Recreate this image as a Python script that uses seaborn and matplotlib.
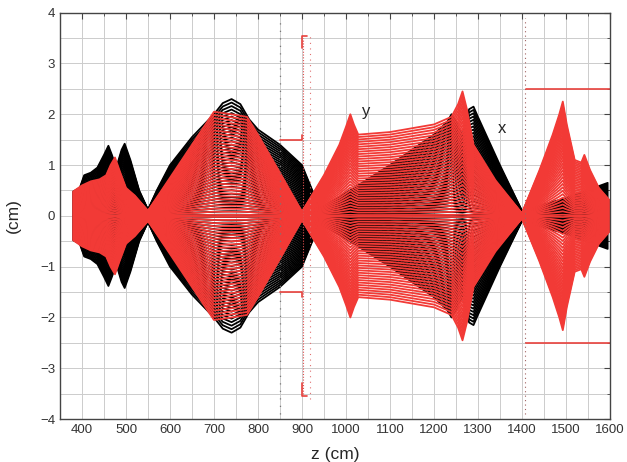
import numpy as np
import pandas as pd
import matplotlib
matplotlib.use("Agg")
import matplotlib.pyplot as plt
import seaborn as sns

# outer envelope of the x plane (black)
x_env_z = [380, 395, 405, 420, 435, 450, 460, 468, 478, 490, 497, 510, 530, 550,
           570, 600, 650, 700, 720, 740, 760, 780, 800, 850, 900, 940,
           1000, 1100, 1200, 1230, 1240, 1250, 1265, 1280, 1290, 1300, 1350, 1400,
           1500, 1595]
x_env_r = [0.48, 0.55, 0.8, 0.85, 0.95, 1.2, 1.38, 1.2, 0.95, 1.3, 1.42, 1.1, 0.5, 0.12,
           0.5, 1.0, 1.55, 2.0, 2.22, 2.3, 2.2, 1.9, 1.7, 1.4, 1.0, 0.15,
           0.45, 1.0, 1.6, 1.85, 2.0, 1.85, 1.6, 2.1, 2.15, 1.95, 1.0, 0.1,
           0.35, 0.65]

# outer envelope of the y plane (red)
y_env_z = [380, 400, 420, 440, 455, 465, 475, 485, 500, 520, 550,
           600, 650, 700, 740, 775, 800, 850, 900,
           950, 985, 1000, 1010, 1018, 1028, 1100, 1200, 1240, 1255, 1265, 1275, 1290,
           1340, 1400, 1440, 1470, 1485, 1493, 1502, 1520, 1535, 1542, 1555, 1575,
           1595, 1600]
y_env_r = [0.48, 0.6, 0.68, 0.72, 0.8, 1.0, 1.15, 0.9, 0.55, 0.4, 0.1,
           0.75, 1.4, 2.05, 2.0, 1.95, 1.6, 0.85, 0.08,
           0.8, 1.4, 1.75, 2.0, 1.8, 1.6, 1.65, 1.8, 1.95, 2.2, 2.45, 2.1, 1.4,
           0.7, 0.05, 0.9, 1.6, 2.0, 2.25, 1.8, 1.1, 1.05, 1.2, 0.9, 0.55,
           0.35, 0.3]

# relative amplitudes of the traced particles
amps = [1.0, 0.97, 0.94, 0.91, 0.88, 0.85, 0.82, 0.79, 0.76, 0.73, 0.70, 0.67,
        0.64, 0.61, 0.58, 0.55, 0.52, 0.49, 0.46, 0.43, 0.40, 0.37, 0.34, 0.31,
        0.28, 0.25, 0.22, 0.19, 0.16, 0.13, 0.10, 0.07, 0.04, 0.01]

# apertures
aper1_z = [850, 900]
aper1_half = 1.5
aper2_z = [900, 912]
aper2_half = 3.55
aper3_z = [1410, 1600]
aper3_half = 2.5


def traces(env_z, env_r):
    rows = []
    k = 0
    for a in amps:
        for s in (1, -1):
            for z, r in zip(env_z, env_r):
                rows.append((k, z, s * a * r))
            k += 1
    return pd.DataFrame(rows, columns=["traj", "z", "pos"])


df_x = traces(x_env_z, x_env_r)
df_y = traces(y_env_z, y_env_r)

sns.set_theme(style="white")
plt.rcParams["font.family"] = ["Liberation Sans", "DejaVu Sans"]

fig = plt.figure(figsize=(6.27, 4.62), dpi=100)
ax = fig.add_axes([0.0957, 0.093, 0.877, 0.8795])

sns.lineplot(data=df_x, x="z", y="pos", units="traj", estimator=None,
             color="black", lw=1.3, ax=ax, legend=False)
sns.lineplot(data=df_y, x="z", y="pos", units="traj", estimator=None,
             color="#f23a36", lw=1.3, ax=ax, legend=False)

# dotted markers of element positions
ax.plot([850, 850], [-3.9, 3.9], color="#777777", ls=(0, (1, 5)), lw=0.9)
ax.plot([903, 903], [-3.5, 3.5], color="#e05050", ls=(0, (1, 1.5)), lw=0.8)
ax.plot([918, 918], [-3.6, 3.6], color="#e07070", ls=(0, (1, 4)), lw=0.8)
ax.plot([1407, 1407], [-3.9, 3.9], color="#a06060", ls=(0, (1, 3)), lw=0.8)

red = "#e8413c"
for s in (1, -1):
    ax.plot([aper1_z[0], aper1_z[1], aper1_z[1]],
            [s * aper1_half, s * aper1_half, s * (aper1_half + 0.1)], color=red, lw=1.2)
    ax.plot([aper2_z[1], aper2_z[0], aper2_z[0]],
            [s * aper2_half, s * aper2_half, s * (aper2_half - 0.25)], color=red, lw=1.2)
    ax.plot(aper3_z, [s * aper3_half, s * aper3_half], color=red, lw=1.2)

ax.text(1045, 2.05, "y", fontsize=12, ha="center", va="center")
ax.text(1355, 1.72, "x", fontsize=12, ha="center", va="center")

ax.set_xlim(350, 1600)
ax.set_ylim(-4, 4)
ax.set_xticks(range(400, 1601, 100))
ax.set_xticks(range(350, 1601, 50), minor=True)
ax.set_yticks(range(-4, 5))
ax.set_yticks(np.arange(-4, 4.01, 0.5), minor=True)
ax.set_yticklabels(["\u22124", "\u22123", "\u22122", "\u22121", "0", "1", "2", "3", "4"])
ax.grid(which="both", color="#cccccc", lw=0.7)
ax.set_axisbelow(True)
ax.tick_params(which="both", direction="in", top=True, right=True,
               labelsize=9.5, colors="#444444", labelcolor="#333333")
ax.tick_params(which="major", length=4, width=0.8)
ax.tick_params(which="minor", length=2, width=0.6)
for sp in ax.spines.values():
    sp.set_color("#444444")
    sp.set_linewidth(1.0)

ax.set_xlabel("z (cm)", fontsize=12.5, labelpad=8)
ax.set_ylabel("(cm)", fontsize=12.5, labelpad=14)

fig.savefig("out.png", dpi=100)
